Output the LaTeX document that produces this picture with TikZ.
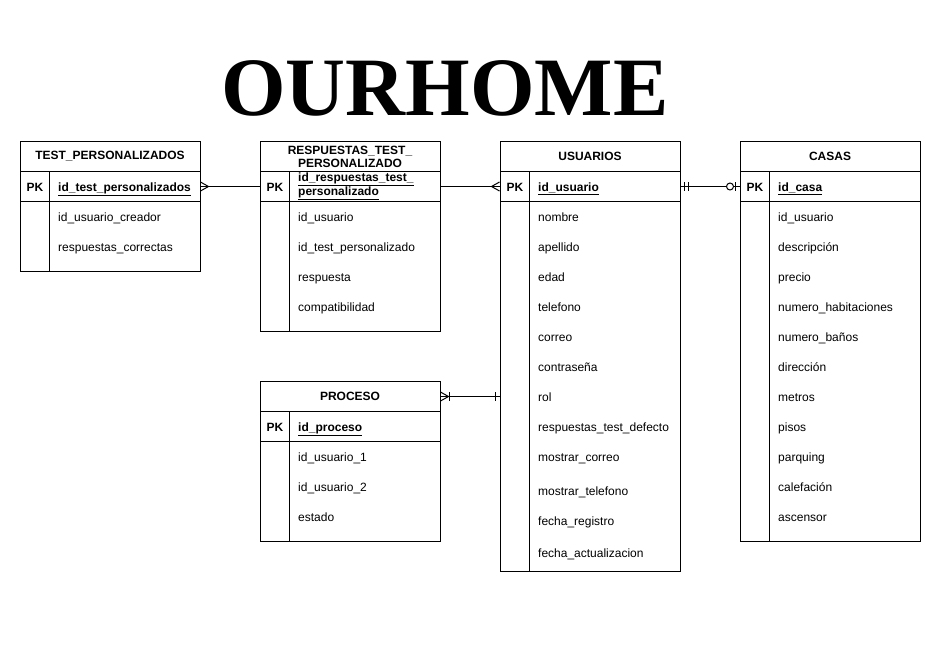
\documentclass[tikz,border=0pt]{standalone}
\usepackage{fontspec}
\usepackage{tikz}
\usetikzlibrary{calc,shapes}
\setmainfont{Liberation Sans}
\newfontfamily\titlefont{Liberation Serif}
\tikzstyle{headbox}=[rectangle,draw=black,fill=white,line width=1pt,anchor=north,
                     minimum width=180pt,minimum height=30pt,inner sep=0pt,align=center,
                     font=\fontsize{12}{13}\selectfont\bfseries]
\tikzstyle{keybox}=[rectangle,draw=black,fill=white,line width=1pt,anchor=north,
                    minimum width=180pt,minimum height=30pt,inner sep=0pt]
\tikzstyle{bodybox}=[rectangle,draw=black,fill=white,line width=1pt,anchor=north,
                     minimum width=180pt,inner sep=0pt]
\tikzstyle{pktext}=[inner sep=0pt,text height=11pt,text depth=1pt,
                    font=\fontsize{12}{13}\selectfont\bfseries]
\tikzstyle{fieldtext}=[anchor=west,inner sep=0pt,text height=11pt,text depth=1pt,
                       font=\fontsize{12}{13}\selectfont]
\tikzstyle{keytext}=[fieldtext,font=\fontsize{12}{13}\selectfont\bfseries]
\tikzstyle{twolinetext}=[anchor=west,inner sep=0pt,align=left,
                         font=\fontsize{12}{13}\selectfont\bfseries]
\tikzstyle{relation}=[draw=black,line width=1pt]
\newcommand\keyname[1]{\underline{#1}}
\newcommand\field[4]{\node[fieldtext] (#1) at (#2,#3) {#4};}
\newcommand\keycolumn[2]{\draw[line width=1pt] ($(#1.north west)+(30,0)$) -- ($(#2.south west)+(30,0)$);}
\newcommand\ermany[2]{\draw[line width=1pt] ($(#1)+(#2*8,0)$) -- ($(#1)+(0,4.5)$)
    ($(#1)+(#2*8,0)$) -- ($(#1)+(0,-4.5)$);}
\newcommand\erbar[2]{\draw[line width=1pt] ($(#1)+(#2,-4.5)$) -- ($(#1)+(#2,4.5)$);}
\newcommand\erring[2]{\draw[line width=1pt,fill=white] ($(#1)+(#2,0)$) circle (3.5);}

\begin{document}
\begin{tikzpicture}[x=1pt,y=-1pt]
    \fill[white] (0,0) rectangle (941,662);
    \useasboundingbox (0,0) rectangle (941,662);

    \node[inner sep=0pt,font=\titlefont\bfseries\fontsize{83}{88}\selectfont] (title) at (445,88) {OURHOME};

    \node [headbox] (testHead) at (110,141) {TEST\_PERSONALIZADOS};
    \node [keybox] (testKey) at (110,171) {};
    \node [bodybox,minimum height=70pt] (testBody) at (110,201) {};
    \keycolumn{testKey}{testBody}
    \node [pktext] (testPK) at (35,186) {PK};
    \node [keytext] (testId) at (58,186) {\keyname{id\_test\_personalizados}};
    \field{testCreador}{58}{216}{id\_usuario\_creador}
    \field{testCorrectas}{58}{246}{respuestas\_correctas}

    \node [headbox] (respHead) at (350,141) {RESPUESTAS\_TEST\_\\PERSONALIZADO};
    \node [keybox] (respKey) at (350,171) {};
    \node [bodybox,minimum height=130pt] (respBody) at (350,201) {};
    \keycolumn{respKey}{respBody}
    \node [pktext] (respPK) at (275,186) {PK};
    \node [twolinetext] (respId) at (298,186.5) {\keyname{id\_respuestas\_test\_}\\\keyname{personalizado}};
    \field{respUsuario}{298}{216}{id\_usuario}
    \field{respTest}{298}{246}{id\_test\_personalizado}
    \field{respRespuesta}{298}{276}{respuesta}
    \field{respCompat}{298}{306}{compatibilidad}

    \node [headbox] (usrHead) at (590,141) {USUARIOS};
    \node [keybox] (usrKey) at (590,171) {};
    \node [bodybox,minimum height=370pt] (usrBody) at (590,201) {};
    \keycolumn{usrKey}{usrBody}
    \node [pktext] (usrPK) at (515,186) {PK};
    \node [keytext] (usrId) at (538,186) {\keyname{id\_usuario}};
    \field{usrNombre}{538}{216}{nombre}
    \field{usrApellido}{538}{246}{apellido}
    \field{usrEdad}{538}{276}{edad}
    \field{usrTelefono}{538}{306}{telefono}
    \field{usrCorreo}{538}{336}{correo}
    \field{usrClave}{538}{366}{contraseña}
    \field{usrRol}{538}{396}{rol}
    \field{usrDefecto}{538}{426}{respuestas\_test\_defecto}
    \field{usrMostrarCorreo}{538}{456}{mostrar\_correo}
    \field{usrMostrarTel}{538}{490}{mostrar\_telefono}
    \field{usrRegistro}{538}{520}{fecha\_registro}
    \field{usrActualiza}{538}{552}{fecha\_actualizacion}

    \node [headbox] (casaHead) at (830,141) {CASAS};
    \node [keybox] (casaKey) at (830,171) {};
    \node [bodybox,minimum height=340pt] (casaBody) at (830,201) {};
    \keycolumn{casaKey}{casaBody}
    \node [pktext] (casaPK) at (755,186) {PK};
    \node [keytext] (casaId) at (778,186) {\keyname{id\_casa}};
    \field{casaUsuario}{778}{216}{id\_usuario}
    \field{casaDesc}{778}{246}{descripción}
    \field{casaPrecio}{778}{276}{precio}
    \field{casaHab}{778}{306}{numero\_habitaciones}
    \field{casaBanos}{778}{336}{numero\_baños}
    \field{casaDir}{778}{366}{dirección}
    \field{casaMetros}{778}{396}{metros}
    \field{casaPisos}{778}{426}{pisos}
    \field{casaParquing}{778}{456}{parquing}
    \field{casaCalef}{778}{486}{calefación}
    \field{casaAscensor}{778}{516}{ascensor}

    \node [headbox] (procHead) at (350,381) {PROCESO};
    \node [keybox] (procKey) at (350,411) {};
    \node [bodybox,minimum height=100pt] (procBody) at (350,441) {};
    \keycolumn{procKey}{procBody}
    \node [pktext] (procPK) at (275,426) {PK};
    \node [keytext] (procId) at (298,426) {\keyname{id\_proceso}};
    \field{procUsuarioA}{298}{456}{id\_usuario\_1}
    \field{procUsuarioB}{298}{486}{id\_usuario\_2}
    \field{procEstado}{298}{516}{estado}

    \coordinate (procEnd) at (procHead.east -| usrBody.west);
    \draw [relation] (testKey.east) -- (respKey.west);
    \draw [relation] (respKey.east) -- (usrKey.west);
    \draw [relation] (usrKey.east) -- (casaKey.west);
    \draw [relation] (procHead.east) -- (procEnd);

    \ermany{testKey.east}{1}
    \ermany{usrKey.west}{-1}
    \erbar{usrKey.east}{4}
    \erbar{usrKey.east}{8}
    \erbar{casaKey.west}{-4}
    \erring{casaKey.west}{-9.5}
    \ermany{procHead.east}{1}
    \erbar{procHead.east}{9}
    \erbar{procEnd}{-4}
\end{tikzpicture}
\end{document}
